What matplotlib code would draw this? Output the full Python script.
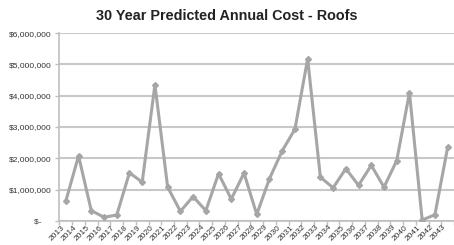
import matplotlib.pyplot as plt
import numpy as np

plt.rcParams['font.family'] = ['Liberation Sans', 'DejaVu Sans']

years = [str(y) for y in range(2013, 2044)]
cost = [0.64, 2.08, 0.33, 0.12, 0.19, 1.54, 1.24, 4.35, 1.08, 0.31,
        0.78, 0.33, 1.51, 0.70, 1.53, 0.21, 1.35, 2.24, 2.93, 5.18,
        1.40, 1.06, 1.67, 1.14, 1.78, 1.08, 1.93, 4.10, 0.03, 0.20, 2.35]
cost = np.array(cost) * 1e6

yticks = [0, 1e6, 2e6, 3e6, 4e6, 5e6, 6e6]
ylabels = ['$-    ', '$1,000,000', '$2,000,000', '$3,000,000',
           '$4,000,000', '$5,000,000', '$6,000,000']

fig = plt.figure(figsize=(4.54, 2.45), dpi=100)
ax = fig.add_axes([0.131, 0.098, 0.869, 0.767])

x = np.arange(len(years))
ax.plot(x, cost, color='#a6a6a6', lw=2.2, marker='D', ms=3,
        markerfacecolor='#a6a6a6', markeredgecolor='#a6a6a6', zorder=3)

ax.set_xlim(-0.5, len(years) - 0.5)
ax.set_ylim(0, 6e6)
ax.set_yticks(yticks)
ax.set_yticklabels(ylabels, fontsize=6, color='#333333')
ax.grid(axis='y', color='#c8c8c8', lw=1.5)
ax.set_axisbelow(True)

# category axis: tick marks at boundaries, labels at centers
ax.set_xticks(np.arange(-0.5, len(years), 1.0))
ax.set_xticklabels([])
ax.set_xticks(x, minor=True)
ax.set_xticklabels(years, minor=True, rotation=45, ha='right', va='top',
                   fontsize=6, color='#333333')
ax.tick_params(axis='x', which='major', length=3, color='#bfbfbf', width=1)
ax.tick_params(axis='x', which='minor', length=0, pad=2)
ax.tick_params(axis='y', length=3, color='#bfbfbf', width=1, pad=3)

for s in ['top', 'right']:
    ax.spines[s].set_visible(False)
ax.spines['left'].set_color('#bfbfbf')
ax.spines['left'].set_linewidth(1.2)
ax.spines['bottom'].set_color('#bfbfbf')
ax.spines['bottom'].set_linewidth(1.2)

fig.text(0.5, 0.935, '30 Year Predicted Annual Cost - Roofs', ha='center',
         va='center', fontsize=10.4, fontweight='bold', color='#222222')

fig.savefig('out.png', dpi=100)
